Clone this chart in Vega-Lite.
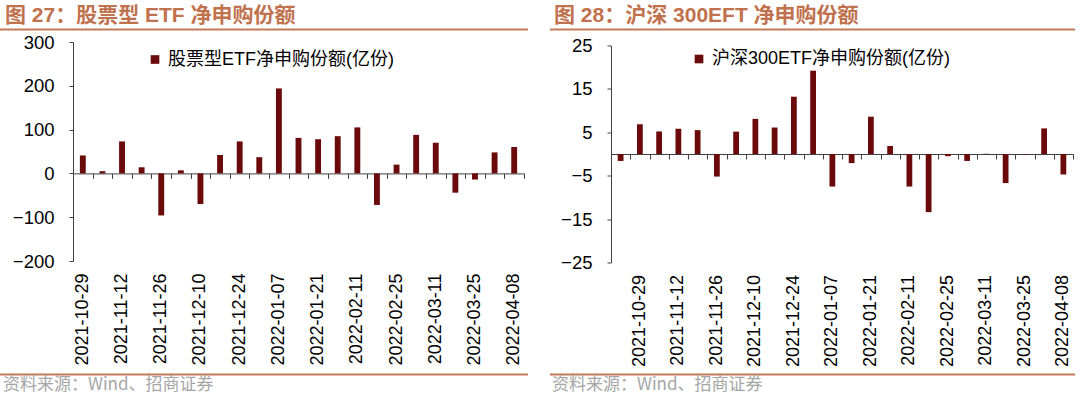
{
  "$schema": "https://vega.github.io/schema/vega-lite/v6.json",
  "background": "white",
  "padding": {"left": 0, "top": 4.5, "right": 0, "bottom": 0},
  "config": {
    "font": "Liberation Sans, Noto Sans CJK SC",
    "view": {"stroke": null},
    "axis": {"grid": false, "labelColor": "#000000", "domainColor": "#404040", "tickColor": "#404040", "labelFont": "Liberation Sans", "labelFontSize": 18.5, "title": null}
  },
  "datasets": {
    "etf": [
      {"date": "2021-10-29", "v": 41},
      {"date": "2021-11-05", "v": 5},
      {"date": "2021-11-12", "v": 73},
      {"date": "2021-11-19", "v": 14},
      {"date": "2021-11-26", "v": -96},
      {"date": "2021-12-03", "v": 7},
      {"date": "2021-12-10", "v": -70},
      {"date": "2021-12-17", "v": 42},
      {"date": "2021-12-24", "v": 73},
      {"date": "2021-12-31", "v": 37},
      {"date": "2022-01-07", "v": 194},
      {"date": "2022-01-14", "v": 81},
      {"date": "2022-01-21", "v": 78},
      {"date": "2022-01-28", "v": 85},
      {"date": "2022-02-11", "v": 105},
      {"date": "2022-02-18", "v": -72},
      {"date": "2022-02-25", "v": 20},
      {"date": "2022-03-04", "v": 88},
      {"date": "2022-03-11", "v": 70},
      {"date": "2022-03-18", "v": -44},
      {"date": "2022-03-25", "v": -14},
      {"date": "2022-04-01", "v": 48},
      {"date": "2022-04-08", "v": 60}
    ],
    "hs": [
      {"date": "2021-10-22", "v": -1.6},
      {"date": "2021-10-29", "v": 6.85},
      {"date": "2021-11-05", "v": 5.2},
      {"date": "2021-11-12", "v": 5.8},
      {"date": "2021-11-19", "v": 5.5},
      {"date": "2021-11-26", "v": -5.2},
      {"date": "2021-12-03", "v": 5.15},
      {"date": "2021-12-10", "v": 8.1},
      {"date": "2021-12-17", "v": 6.1},
      {"date": "2021-12-24", "v": 13.2},
      {"date": "2021-12-31", "v": 19.2},
      {"date": "2022-01-07", "v": -7.5},
      {"date": "2022-01-14", "v": -2.1},
      {"date": "2022-01-21", "v": 8.6},
      {"date": "2022-01-28", "v": 1.85},
      {"date": "2022-02-11", "v": -7.5},
      {"date": "2022-02-18", "v": -13.4},
      {"date": "2022-02-25", "v": -0.5},
      {"date": "2022-03-04", "v": -1.6},
      {"date": "2022-03-11", "v": 0.05},
      {"date": "2022-03-18", "v": -6.7},
      {"date": "2022-03-25", "v": -0.15},
      {"date": "2022-04-01", "v": 5.9},
      {"date": "2022-04-08", "v": -4.7}
    ]
  },
  "resolve": {"scale": {"x": "independent", "y": "independent", "color": "independent"}, "legend": {"color": "independent"}},
  "spacing": 22,
  "hconcat": [
    {
      "title": {"text": "图 27：股票型 ETF 净申购份额", "anchor": "start", "fontSize": 21, "fontWeight": "bold", "color": "#C0714D", "font": "Liberation Sans, Noto Sans CJK SC", "dx": 5, "offset": 2.5},
      "spacing": 2.5,
      "vconcat": [
        {"data": {"values": []}, "mark": "point", "encoding": {}, "width": 528, "height": 2, "view": {"fill": "#C47A58", "stroke": null}},
        {
          "data": {"name": "etf"},
          "width": 524,
          "height": 219,
          "layer": [
            {
              "mark": {"type": "bar", "width": {"band": 0.3}},
              "encoding": {
                "x": {"field": "date", "type": "ordinal", "sort": null,
                  "scale": {"range": [73, 524], "paddingInner": 0, "paddingOuter": 0},
                  "axis": {"orient": "bottom", "offset": -87.6, "labels": false, "ticks": true, "tickBand": "extent", "tickSize": 5, "domain": true}},
                "y": {"field": "v", "type": "quantitative",
                  "scale": {"domain": [-200, 300], "nice": false, "zero": false},
                  "axis": {"values": [-200, -100, 0, 100, 200, 300], "offset": -73, "tickSize": 4, "labelPadding": 15}},
                "color": {"datum": "股票型ETF净申购份额(亿份)", "scale": {"range": ["#6B0A0A"]},
                  "legend": {"orient": "none", "legendX": 146, "legendY": 22, "title": null, "symbolType": "square", "symbolSize": 75, "symbolStrokeWidth": 0, "labelFontSize": 18, "labelFont": "Liberation Sans, Noto Sans CJK SC", "labelColor": "#000000", "labelLimit": 500, "padding": 0, "symbolOffset": 0, "labelOffset": 4}}
              }
            },
            {
              "mark": {"type": "bar", "opacity": 0},
              "encoding": {
                "x": {"field": "date", "type": "ordinal", "sort": null,
                  "axis": {"orient": "bottom", "values": ["2021-10-29","2021-11-12","2021-11-26","2021-12-10","2021-12-24","2022-01-07","2022-01-21","2022-02-11","2022-02-25","2022-03-11","2022-03-25","2022-04-08"], "labelAngle": -90, "labelFontSize": 18, "ticks": false, "domain": false, "labelPadding": 12, "minExtent": 110}},
                "y": {"field": "v", "type": "quantitative"}
              }
            }
          ],
          "resolve": {"axis": {"x": "independent"}}
        },
        {"data": {"values": []}, "mark": "point", "encoding": {}, "width": 528, "height": 2, "view": {"fill": "#C47A58", "stroke": null},
          "title": {"text": "资料来源：Wind、招商证券", "orient": "bottom", "anchor": "start", "fontSize": 17, "fontWeight": "normal", "color": "#A6A6A6", "font": "Noto Sans CJK SC", "dx": 3, "offset": 1.5}}
      ]
    },
    {
      "title": {"text": "图 28：沪深 300EFT 净申购份额", "anchor": "start", "fontSize": 21, "fontWeight": "bold", "color": "#C0714D", "font": "Liberation Sans, Noto Sans CJK SC", "dx": 4, "offset": 2.5},
      "spacing": 6,
      "vconcat": [
        {"data": {"values": []}, "mark": "point", "encoding": {}, "width": 525, "height": 2, "view": {"fill": "#C47A58", "stroke": null}},
        {
          "data": {"name": "hs"},
          "width": 523,
          "height": 217,
          "layer": [
            {
              "mark": {"type": "bar", "width": {"band": 0.3}},
              "encoding": {
                "x": {"field": "date", "type": "ordinal", "sort": null,
                  "scale": {"range": [61, 523], "paddingInner": 0, "paddingOuter": 0},
                  "axis": {"orient": "bottom", "offset": -108.5, "labels": false, "ticks": true, "tickBand": "extent", "tickSize": 5, "domain": true}},
                "y": {"field": "v", "type": "quantitative",
                  "scale": {"domain": [-25, 25], "nice": false, "zero": false},
                  "axis": {"values": [-25, -15, -5, 5, 15, 25], "offset": -61, "tickSize": 4, "labelPadding": 15}},
                "color": {"datum": "沪深300ETF净申购份额(亿份)", "scale": {"range": ["#6B0A0A"]},
                  "legend": {"orient": "none", "legendX": 140, "legendY": 21.5, "title": null, "symbolType": "square", "symbolSize": 75, "symbolStrokeWidth": 0, "labelFontSize": 18, "labelFont": "Liberation Sans, Noto Sans CJK SC", "labelColor": "#000000", "labelLimit": 500, "padding": 0, "symbolOffset": 0, "labelOffset": 4}}
              }
            },
            {
              "mark": {"type": "bar", "opacity": 0},
              "encoding": {
                "x": {"field": "date", "type": "ordinal", "sort": null,
                  "axis": {"orient": "bottom", "values": ["2021-10-29","2021-11-12","2021-11-26","2021-12-10","2021-12-24","2022-01-07","2022-01-21","2022-02-11","2022-02-25","2022-03-11","2022-03-25","2022-04-08"], "labelAngle": -90, "labelFontSize": 18, "ticks": false, "domain": false, "labelPadding": 12, "minExtent": 105}},
                "y": {"field": "v", "type": "quantitative"}
              }
            }
          ],
          "resolve": {"axis": {"x": "independent"}}
        },
        {"data": {"values": []}, "mark": "point", "encoding": {}, "width": 525, "height": 2, "view": {"fill": "#C47A58", "stroke": null},
          "title": {"text": "资料来源：Wind、招商证券", "orient": "bottom", "anchor": "start", "fontSize": 17, "fontWeight": "normal", "color": "#A6A6A6", "font": "Noto Sans CJK SC", "dx": 2, "offset": 1.5}}
      ]
    }
  ]
}
